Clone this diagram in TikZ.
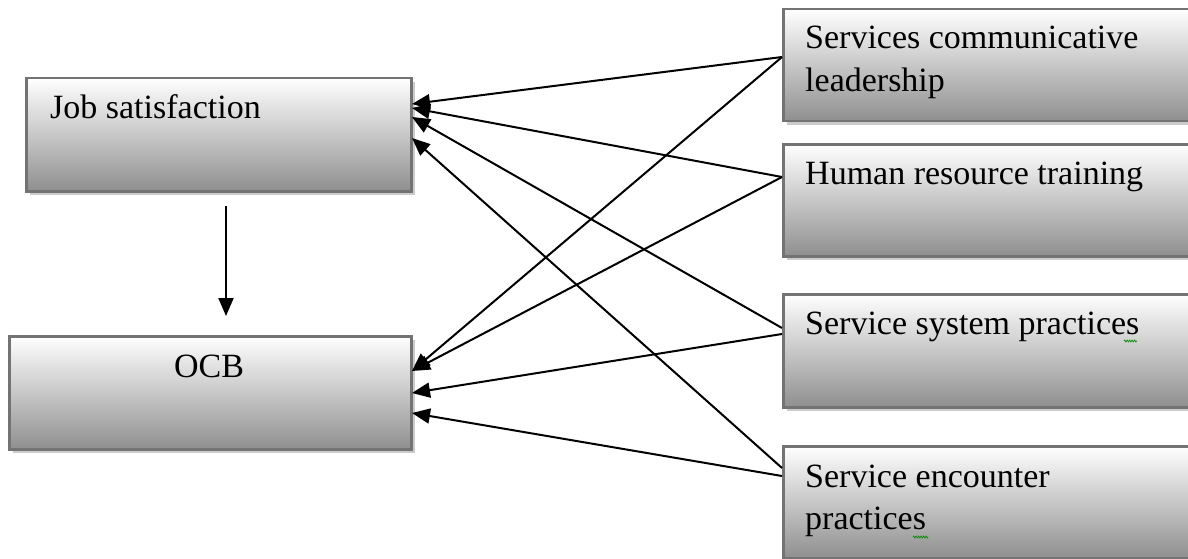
\documentclass[tikz,border=0pt]{standalone}
\usepackage{fontspec}
\setmainfont{Liberation Serif}
\usetikzlibrary{arrows.meta,shadows,decorations.pathmorphing}
\begin{document}
\begin{tikzpicture}[x=1pt,y=-1pt,
  box/.style={rectangle, draw=black!55, line width=2.5pt, top color=white, bottom color=black!44,
    inner sep=0pt, anchor=north west,
    drop shadow={shadow xshift=4pt, shadow yshift=-4pt, fill=black!20, opacity=1}},
  lbl/.style={anchor=base west, inner sep=0pt, font=\fontsize{34}{42}\selectfont},
  arr/.style={-{Triangle[length=18pt,width=15pt]}, line width=2pt, black},
  squig/.style={draw=green!55!black, line width=0.7pt, decorate,
    decoration={zigzag, segment length=2.5pt, amplitude=1pt}}]
\useasboundingbox (0,0) rectangle (1188,559);
\clip (0,0) rectangle (1188,559);
% boxes
\node[box, minimum width=385pt, minimum height=113pt] (js) at (25,77) {};
\node[box, minimum width=402pt, minimum height=113pt] (ocb) at (8,335) {};
\node[box, minimum width=430pt, minimum height=112pt] (scl) at (782,8) {};
\node[box, minimum width=430pt, minimum height=112pt] (hrt) at (782,143) {};
\node[box, minimum width=430pt, minimum height=113pt] (ssp) at (782,293) {};
\node[box, minimum width=430pt, minimum height=112pt] (sep) at (782,445) {};
% texts
\node[lbl] (tjs) at (50,119) {Job satisfaction};
\node[lbl, anchor=base] (tocb) at (209,377) {OCB};
\node[lbl] (tscl1) at (805,49) {Services communicative};
\node[lbl] (tscl2) at (805,92) {leadership};
\node[lbl] (thrt) at (805,184) {Human resource training};
\node[lbl] (tssp) at (805,334) {Service system practices};
\node[lbl] (tsep1) at (805,487) {Service encounter};
\node[lbl] (tsep2) at (805,529) {practices};
% spelling squiggles
\coordinate (q1a) at (1124,341); \coordinate (q1b) at (1137,341);
\coordinate (q2a) at (913,537); \coordinate (q2b) at (928,537);
\draw[squig] (q1a) -- (q1b);
\draw[squig] (q2a) -- (q2b);
% connector end points
\coordinate (sclA) at (782,57);
\coordinate (hrtA) at (782,177);
\coordinate (sspA) at (782,328);
\coordinate (sspB) at (782,334);
\coordinate (sepA) at (782,468);
\coordinate (sepB) at (782,476);
\coordinate (js1) at (412,104);
\coordinate (js2) at (412,108);
\coordinate (js3) at (412,117);
\coordinate (js4) at (412,138);
\coordinate (ocb1) at (412,371);
\coordinate (ocb2) at (412,393);
\coordinate (ocb3) at (412,413);
\coordinate (jsb) at (226,206);
\coordinate (ocbt) at (226,316);
% connectors
\draw[arr] (sclA) -- (js1);
\draw[arr] (hrtA) -- (js2);
\draw[arr] (sspA) -- (js3);
\draw[arr] (sepA) -- (js4);
\draw[arr] (sclA) -- (ocb1);
\draw[arr] (hrtA) -- (ocb1);
\draw[arr] (sspB) -- (ocb2);
\draw[arr] (sepB) -- (ocb3);
\draw[arr] (jsb) -- (ocbt);
\end{tikzpicture}
\end{document}
